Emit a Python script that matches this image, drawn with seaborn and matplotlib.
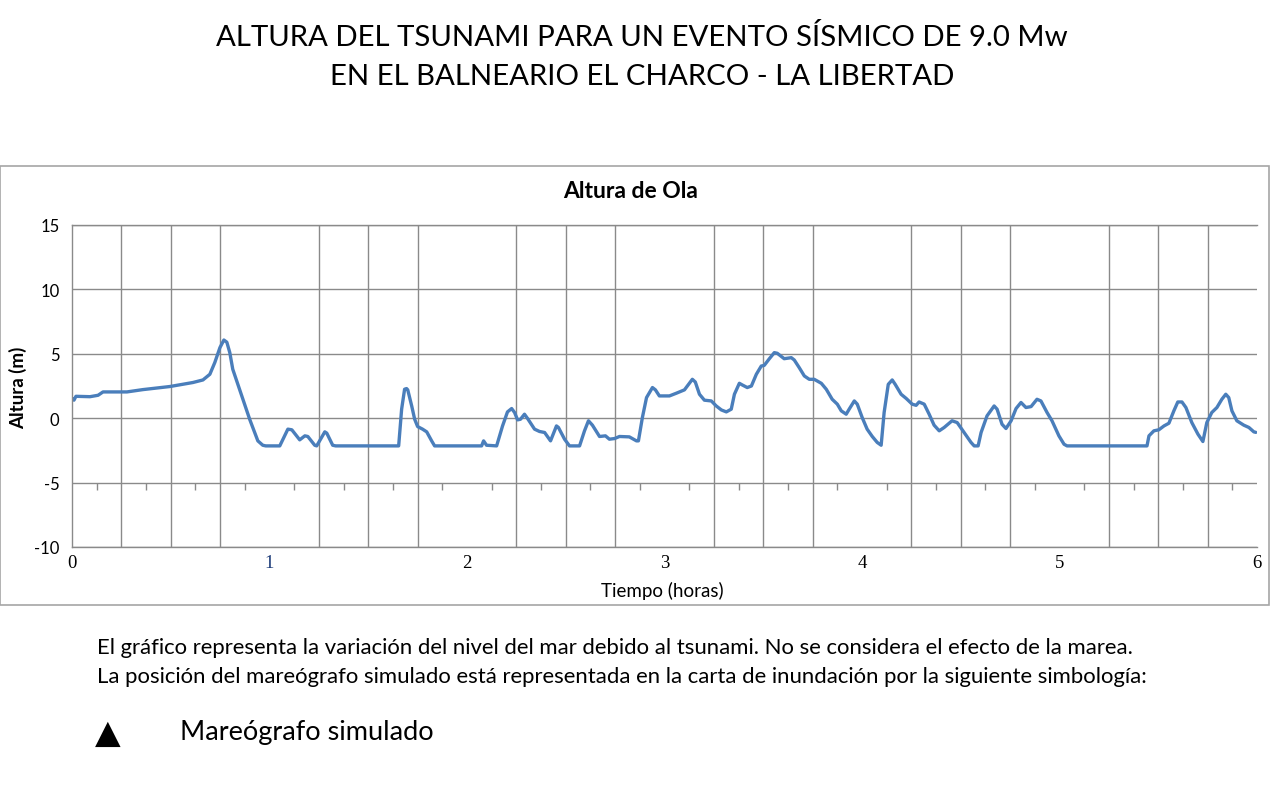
import numpy as np
import pandas as pd
import matplotlib
matplotlib.use("Agg")
import matplotlib.pyplot as plt
import seaborn as sns
from matplotlib.patches import Rectangle

# Serie (tiempo en horas, altura en metros)
tiempo_h = [0.000, 0.010, 0.020, 0.091, 0.132, 0.157, 0.278, 0.359, 0.496, 0.612,
            0.663, 0.698, 0.723, 0.749, 0.769, 0.784, 0.799, 0.814, 0.860, 0.900,
            0.941, 0.966, 0.981, 1.052, 1.093, 1.113, 1.153, 1.179, 1.194, 1.229,
            1.239, 1.280, 1.290, 1.320, 1.335, 1.654, 1.669, 1.684, 1.694, 1.700,
            1.720, 1.735, 1.750, 1.775, 1.796, 1.821, 1.836, 2.074, 2.084, 2.099,
            2.150, 2.180, 2.205, 2.226, 2.241, 2.256, 2.271, 2.291, 2.307, 2.342,
            2.367, 2.393, 2.423, 2.453, 2.463, 2.494, 2.519, 2.570, 2.595, 2.615,
            2.635, 2.671, 2.701, 2.721, 2.747, 2.772, 2.822, 2.858, 2.868, 2.888,
            2.909, 2.939, 2.954, 2.974, 3.025, 3.060, 3.101, 3.141, 3.156, 3.177,
            3.202, 3.237, 3.262, 3.288, 3.313, 3.338, 3.354, 3.379, 3.394, 3.419,
            3.440, 3.465, 3.490, 3.505, 3.531, 3.556, 3.571, 3.606, 3.642, 3.657,
            3.682, 3.708, 3.733, 3.758, 3.794, 3.819, 3.849, 3.875, 3.895, 3.920,
            3.935, 3.961, 3.976, 4.001, 4.026, 4.052, 4.077, 4.097, 4.112, 4.133,
            4.153, 4.168, 4.198, 4.224, 4.254, 4.274, 4.289, 4.315, 4.340, 4.365,
            4.391, 4.416, 4.456, 4.482, 4.517, 4.552, 4.568, 4.588, 4.603, 4.633,
            4.669, 4.684, 4.709, 4.729, 4.755, 4.780, 4.805, 4.830, 4.856, 4.886,
            4.906, 4.937, 4.962, 4.997, 5.023, 5.038, 5.443, 5.453, 5.478, 5.503,
            5.529, 5.554, 5.579, 5.599, 5.620, 5.640, 5.670, 5.701, 5.726, 5.746,
            5.771, 5.797, 5.822, 5.842, 5.857, 5.873, 5.898, 5.933, 5.959, 5.984,
            5.994]
altura_m = [1.55, 1.40, 1.70, 1.67, 1.78, 2.04, 2.04, 2.22, 2.46, 2.77,
            2.97, 3.41, 4.32, 5.48, 6.07, 5.90, 5.09, 3.80, 1.70, -0.10,
            -1.76, -2.10, -2.15, -2.15, -0.85, -0.90, -1.68, -1.37, -1.42, -2.10,
            -2.15, -1.06, -1.16, -2.10, -2.15, -2.15, 0.70, 2.25, 2.30, 2.20,
            0.95, -0.08, -0.65, -0.85, -1.06, -1.76, -2.15, -2.15, -1.76, -2.10,
            -2.15, -0.60, 0.49, 0.75, 0.44, -0.13, -0.08, 0.31, -0.03, -0.85,
            -1.03, -1.11, -1.76, -0.60, -0.72, -1.63, -2.15, -2.15, -0.98, -0.20,
            -0.54, -1.42, -1.37, -1.63, -1.58, -1.42, -1.45, -1.76, -1.76, 0.05,
            1.60, 2.38, 2.20, 1.73, 1.73, 1.94, 2.20, 3.02, 2.81, 1.86,
            1.40, 1.34, 0.95, 0.64, 0.49, 0.70, 1.86, 2.71, 2.58, 2.38,
            2.50, 3.41, 4.05, 4.10, 4.62, 5.09, 5.04, 4.62, 4.70, 4.52,
            3.93, 3.28, 3.02, 3.02, 2.71, 2.25, 1.47, 1.09, 0.57, 0.31,
            0.70, 1.34, 1.09, 0.05, -0.85, -1.42, -1.88, -2.10, 0.44, 2.63,
            2.97, 2.63, 1.86, 1.53, 1.09, 1.00, 1.26, 1.09, 0.31, -0.54,
            -0.98, -0.72, -0.20, -0.34, -1.11, -1.88, -2.15, -2.15, -1.11, 0.18,
            0.95, 0.70, -0.47, -0.80, -0.20, 0.75, 1.22, 0.83, 0.90, 1.47,
            1.34, 0.44, -0.20, -1.37, -2.02, -2.15, -2.15, -1.37, -0.98, -0.90,
            -0.60, -0.39, 0.57, 1.26, 1.26, 0.83, -0.34, -1.24, -1.81, -0.34,
            0.44, 0.83, 1.47, 1.86, 1.60, 0.57, -0.20, -0.54, -0.72, -1.06,
            -1.10]
x_ticks = [0, 1, 2, 3, 4, 5, 6]
x_labels = ["0", "1", "2", "3", "4", "5", "6"]
y_ticks = [-10, -5, 0, 5, 10, 15]

df = pd.DataFrame({"tiempo": tiempo_h, "altura": altura_m})

sns.set_theme(style="white")
plt.rcParams['font.family'] = ['Lato', 'DejaVu Sans']
plt.rcParams['axes.unicode_minus'] = False
plt.rcParams['text.color'] = 'black'
plt.rcParams['xtick.labelcolor'] = 'black'
plt.rcParams['ytick.labelcolor'] = 'black'

W, H = 1272, 804
fig = plt.figure(figsize=(W / 100, H / 100), dpi=100)
ax = fig.add_axes([72 / W, 1 - 548 / H, (1257 - 72) / W, (548 - 226) / H])

grid_c = "#8a8a8a"
sns.lineplot(data=df, x="tiempo", y="altura", ax=ax, color="#4a7ebb",
             linewidth=2.4, estimator=None, sort=False)

ax.set_xlim(0, 6)
ax.set_ylim(-10, 15)

# rejilla vertical cada 15 minutos
ax.set_xticks(np.arange(0, 5.8, 0.25), minor=True)
ax.set_xticks(x_ticks)
ax.set_xticklabels(x_labels, family="Liberation Serif", fontsize=13.5)
ax.xaxis.grid(True, which="minor", color=grid_c, linewidth=1)
ax.xaxis.grid(False, which="major")
ax.tick_params(axis="x", which="both", length=0, pad=5)
for lbl in ax.get_xticklabels():
    if lbl.get_text() == "1":
        lbl.set_color("#1f3d7a")

ax.set_yticks(y_ticks)
ax.yaxis.grid(True, color=grid_c, linewidth=1)
ax.tick_params(axis="y", length=5, width=1, color=grid_c, direction="out",
               labelsize=12, pad=4)

# marcas pequenas sobre la linea de -5
mid = np.arange(0.125, 6, 0.25)
ax.plot(mid, np.full(len(mid), -5.0), ls="none", marker=3, ms=5, mew=1,
        color=grid_c)

for s in ["top", "bottom", "left"]:
    ax.spines[s].set_color(grid_c)
    ax.spines[s].set_linewidth(1)
ax.spines["right"].set_visible(False)
ax.set_xlabel("")
ax.set_ylabel("")

# marco del grafico
fig.patches.append(Rectangle((0.0, 1 - 606 / H), 1269 / W, (606 - 167) / H,
                             transform=fig.transFigure, fill=False,
                             edgecolor="#a6a6a6", linewidth=1.2))

fig.text(631 / W, 1 - 192 / H, "Altura de Ola", ha="center", va="center",
         fontsize=16.5, weight="bold")
fig.text(18 / W, 1 - 388 / H, "Altura (m)", ha="center", va="center",
         rotation=90, fontsize=13.5, weight="bold")
fig.text(662 / W, 1 - 591 / H, "Tiempo (horas)", ha="center", va="center",
         fontsize=13.5)

fig.text(642 / W, 1 - 38 / H,
         "ALTURA DEL TSUNAMI PARA UN EVENTO SÍSMICO DE 9.0 Mw",
         ha="center", va="center", fontsize=21.2)
fig.text(642 / W, 1 - 77 / H, "EN EL BALNEARIO EL CHARCO - LA LIBERTAD",
         ha="center", va="center", fontsize=21.2)

fig.text(97 / W, 1 - 648 / H,
         "El gráfico representa la variación del nivel del mar debido al tsunami. "
         "No se considera el efecto de la marea.",
         ha="left", va="center", fontsize=15.9)
fig.text(97 / W, 1 - 677 / H,
         "La posición del mareógrafo simulado está representada en la carta de "
         "inundación por la siguiente simbología:",
         ha="left", va="center", fontsize=15.9)
fig.text(95 / W, 1 - 733 / H, "▲", ha="left", va="center", fontsize=24,
         family=["DejaVu Sans"], color="black")
fig.text(180 / W, 1 - 733 / H, "Mareógrafo simulado", ha="left", va="center",
         fontsize=19.5)

fig.savefig("out.png", dpi=100, facecolor="white")
